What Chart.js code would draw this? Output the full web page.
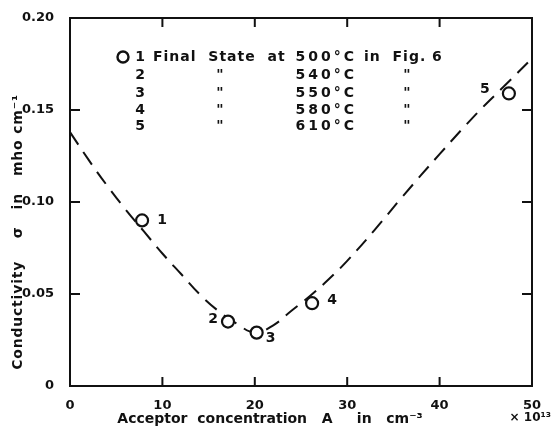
<!DOCTYPE html>
<html>
<head>
<meta charset="utf-8">
<script src="https://cdn.jsdelivr.net/npm/chart.js@4/dist/chart.umd.min.js"></script>
<style>
  html, body { margin: 0; padding: 0; background: #fff; }
  #wrap { width: 552px; height: 428px; }
</style>
</head>
<body>
<div id="wrap"><canvas id="myChart" width="552" height="428"></canvas></div>
<script>
// measured points (final states)
var pointLabels = ['1', '2', '3', '4', '5'];
var pointX = [7.8, 17.1, 20.2, 26.2, 47.5];
var pointY = [0.090, 0.035, 0.029, 0.045, 0.159];
var temps = ['500°C', '540°C', '550°C', '580°C', '610°C'];

// dashed curve
var curveX = [0, 2, 4, 6, 8, 10, 12, 14, 16, 18, 20, 22, 24, 26, 28, 30, 33, 36, 40, 44, 47, 50];
var curveY = [0.138, 0.123, 0.109, 0.096, 0.084, 0.072, 0.061, 0.050, 0.041, 0.034, 0.029,
              0.033, 0.041, 0.049, 0.058, 0.068, 0.085, 0.103, 0.126, 0.148, 0.163, 0.178];

var xTicks = [0, 10, 20, 30, 40, 50];
var yTicks = [0, 0.05, 0.10, 0.15, 0.20];

var FONT = '"DejaVu Sans", sans-serif';
var INK = '#111';

var framePlugin = {
  id: 'frame',
  afterDraw: function (chart) {
    var ctx = chart.ctx;
    var a = chart.chartArea;
    var xs = chart.scales.x, ys = chart.scales.y;
    ctx.save();
    ctx.strokeStyle = INK;
    ctx.lineWidth = 2;
    ctx.strokeRect(a.left, a.top, a.right - a.left, a.bottom - a.top);
    // inward ticks on all four sides
    xTicks.slice(1, -1).forEach(function (v) {
      var px = xs.getPixelForValue(v);
      ctx.beginPath();
      ctx.moveTo(px, a.bottom); ctx.lineTo(px, a.bottom - 9);
      ctx.moveTo(px, a.top); ctx.lineTo(px, a.top + 9);
      ctx.stroke();
    });
    yTicks.slice(1, -1).forEach(function (v) {
      var py = ys.getPixelForValue(v);
      ctx.beginPath();
      ctx.moveTo(a.left, py); ctx.lineTo(a.left + 10, py);
      ctx.moveTo(a.right, py); ctx.lineTo(a.right - 10, py);
      ctx.stroke();
    });

    ctx.fillStyle = INK;
    ctx.textBaseline = 'middle';

    // labels next to the circles
    ctx.font = 'bold 14px ' + FONT;
    var offs = [[20, 0], [-15, -2], [14, 6], [20, -3], [-24, -4]];
    pointLabels.forEach(function (t, i) {
      var px = xs.getPixelForValue(pointX[i]) + offs[i][0];
      var py = ys.getPixelForValue(pointY[i]) + offs[i][1];
      ctx.textAlign = 'center';
      ctx.fillText(t, px, py);
    });

    // key block in the upper part of the plot
    var rowY = [57, 75, 93, 110, 126];
    ctx.beginPath();
    ctx.lineWidth = 2.4;
    ctx.arc(123, rowY[0], 5.5, 0, Math.PI * 2);
    ctx.stroke();
    ctx.font = 'bold 14px ' + FONT;
    pointLabels.forEach(function (t, i) {
      var y = rowY[i];
      ctx.letterSpacing = '0px';
      ctx.textAlign = 'center';
      ctx.fillText(t, 140, y);
      ctx.letterSpacing = '3px';
      ctx.textAlign = 'right';
      ctx.fillText(temps[i], 357, y);
      if (i === 0) {
        ctx.letterSpacing = '1px';
        ctx.textAlign = 'left';
        ctx.fillText('Final  State  at', 153, y);
        ctx.fillText('in  Fig. 6', 364, y);
      } else {
        ctx.letterSpacing = '0px';
        ctx.textAlign = 'center';
        ctx.fillText('"', 220, y);
        ctx.fillText('"', 407, y);
      }
    });

    // axis titles
    ctx.letterSpacing = '0px';
    ctx.font = 'bold 14px ' + FONT;
    ctx.textAlign = 'center';
    ctx.fillText('Acceptor  concentration   A     in   cm\u207B\u00B3', 270, 419);
    ctx.textAlign = 'right';
    ctx.font = 'bold 12px ' + FONT;
    ctx.fillText('\u00D7 10\u00B9\u00B3', 551, 418);

    ctx.letterSpacing = '0.8px';
    ctx.translate(18, 232);
    ctx.rotate(-Math.PI / 2);
    ctx.textAlign = 'center';
    ctx.font = 'bold 14px ' + FONT;
    ctx.fillText('Conductivity    \u03C3   in   mho cm\u207B\u00B9', 0, 0);
    ctx.restore();
  }
};

var ctx = document.getElementById('myChart').getContext('2d');
var myChart = new Chart(ctx, {
  type: 'scatter',
  data: {
    datasets: [
      {
        label: 'Final state',
        data: pointX.map(function (x, i) { return { x: x, y: pointY[i] }; }),
        pointRadius: 6,
        pointBorderWidth: 2.2,
        pointBackgroundColor: '#fff',
        pointBorderColor: INK,
        showLine: false,
        order: 0
      },
      {
        label: 'curve',
        type: 'line',
        data: curveX.map(function (x, i) { return { x: x, y: curveY[i] }; }),
        borderColor: INK,
        borderWidth: 2,
        borderDash: [15, 9],
        pointRadius: 0,
        fill: false,
        tension: 0.4,
        order: 1
      }
    ]
  },
  options: {
    responsive: false,
    animation: false,
    devicePixelRatio: 1,
    layout: { padding: { top: 18, right: 20, left: 0, bottom: 0 } },
    plugins: { legend: { display: false }, tooltip: { enabled: false } },
    scales: {
      x: {
        type: 'linear', min: 0, max: 50,
        grid: { display: false },
        border: { display: false },
        ticks: { stepSize: 10, color: INK, padding: 4, font: { family: FONT, size: 13, weight: 'bold' } },
        afterFit: function (s) { s.height = 42; }
      },
      y: {
        min: 0, max: 0.2,
        grid: { display: false },
        border: { display: false },
        ticks: {
          stepSize: 0.05, color: INK, padding: 8, font: { family: FONT, size: 13, weight: 'bold' },
          callback: function (v) { return v === 0 ? '0' : v.toFixed(2); }
        },
        afterFit: function (s) { s.width = 70; }
      }
    }
  },
  plugins: [framePlugin]
});
</script>
</body>
</html>
